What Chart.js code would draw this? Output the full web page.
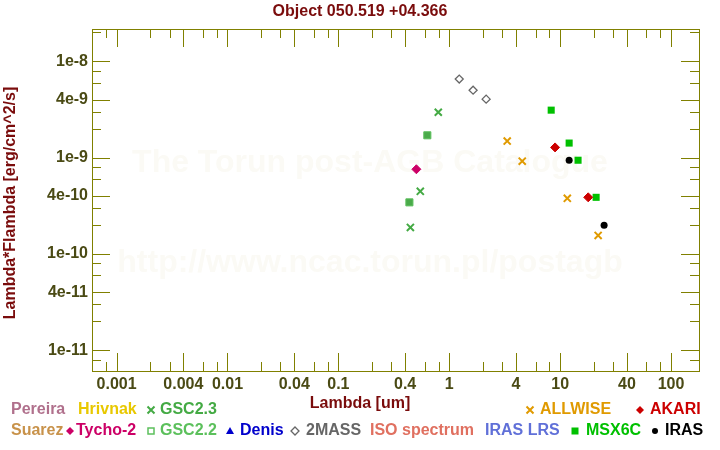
<!DOCTYPE html>
<html>
<head>
<meta charset="utf-8">
<script src="https://cdn.jsdelivr.net/npm/chart.js@4.4.0/dist/chart.umd.min.js"></script>
<style>
  body { margin: 0; background: #fff; }
  #wrap { width: 720px; height: 450px; }
</style>
</head>
<body>
<div id="wrap"><canvas id="sed" width="720" height="450"></canvas></div>
<script>
// photometry : wavelength in um, lambda*F_lambda in erg/cm^2/s
const gsc23Lam = [0.446, 0.548, 0.796];
const gsc23Flux = [1.89e-10, 4.48e-10, 2.97e-9];
const gsc22Lam = [0.437, 0.634];
const gsc22Flux = [3.44e-10, 1.71e-9];
const tychoLam = [0.505];
const tychoFlux = [7.59e-10];
const twomassLam = [1.23, 1.64, 2.15];
const twomassFlux = [6.56e-9, 5.03e-9, 4.06e-9];
const allwiseLam = [3.33, 4.55, 11.6, 22.0];
const allwiseFlux = [1.49e-9, 9.21e-10, 3.79e-10, 1.56e-10];
const akariLam = [9.0, 17.9];
const akariFlux = [1.28e-9, 3.88e-10];
const msxLam = [8.3, 12.05, 14.5, 21.1];
const msxFlux = [3.12e-9, 1.42e-9, 9.42e-10, 3.88e-10];
const irasLam = [12.05, 24.9];
const irasFlux = [9.42e-10, 1.99e-10];

// ticks : 1,2,3,4,6,8 per decade, labels only on 1 and 4
const xTicks = [0.0008, 0.001, 0.002, 0.003, 0.004, 0.006, 0.008, 0.01, 0.02, 0.03, 0.04, 0.06, 0.08,
  0.1, 0.2, 0.3, 0.4, 0.6, 0.8, 1, 2, 3, 4, 6, 8, 10, 20, 30, 40, 60, 80, 100];
const xTickLabels = ['0.001', '0.004', '0.01', '0.04', '0.1', '0.4', '1', '4', '10', '40', '100'];
const yTicks = [8e-12, 1e-11, 2e-11, 3e-11, 4e-11, 6e-11, 8e-11, 1e-10, 2e-10, 3e-10, 4e-10, 6e-10, 8e-10,
  1e-9, 2e-9, 3e-9, 4e-9, 6e-9, 8e-9, 1e-8, 2e-8];
const yTickLabels = ['1e-11', '4e-11', '1e-10', '4e-10', '1e-9', '4e-9', '1e-8'];

const FONT = "'Liberation Sans', Arial, sans-serif";
const AXIS = '#808000';

function pts(lam, flux) {
    return lam.map((l, i) => ({ x: l, y: flux[i] }));
}

function isMajor(v) {
    let m = v / Math.pow(10, Math.floor(Math.log10(v) + 1e-9));
    return Math.abs(m - 1) < 1e-6 || Math.abs(m - 4) < 1e-6;
}

function fmtX(v) {
    let s = xTickLabels.find(t => Math.abs(parseFloat(t) / v - 1) < 1e-6);
    return s || '';
}
function fmtY(v) {
    let s = yTickLabels.find(t => Math.abs(parseFloat(t) / v - 1) < 1e-6);
    return s || '';
}

// watermark behind the points
const watermark = {
    id: 'watermark',
    beforeDatasetsDraw(chart) {
        const ctx = chart.ctx;
        ctx.save();
        ctx.fillStyle = '#fbfaf5';
        ctx.font = 'bold 32px ' + FONT;
        ctx.textAlign = 'center';
        ctx.textBaseline = 'middle';
        ctx.fillText('The Torun post-AGB Catalogue', 370, 163);
        ctx.fillText('http://www.ncac.torun.pl/postagb', 370, 263);
        ctx.restore();
    }
};

// frame with inward ticks on all four sides
const frame = {
    id: 'frame',
    afterDatasetsDraw(chart) {
        const ctx = chart.ctx;
        const a = chart.chartArea;
        const xs = chart.scales.x, ys = chart.scales.y;
        ctx.save();
        ctx.strokeStyle = AXIS;
        ctx.lineWidth = 1;
        ctx.strokeRect(Math.round(a.left) + 0.5, Math.round(a.top) + 0.5,
            Math.round(a.right - a.left), Math.round(a.bottom - a.top));
        ctx.beginPath();
        xTicks.forEach(v => {
            let px = Math.round(xs.getPixelForValue(v)) + 0.5;
            let len = isMajor(v) ? 18 : 9;
            ctx.moveTo(px, a.bottom); ctx.lineTo(px, a.bottom - len);
            ctx.moveTo(px, a.top); ctx.lineTo(px, a.top + len);
        });
        yTicks.forEach(v => {
            let py = Math.round(ys.getPixelForValue(v)) + 0.5;
            let len = isMajor(v) ? 18 : 9;
            ctx.moveTo(a.left, py); ctx.lineTo(a.left + len, py);
            ctx.moveTo(a.right, py); ctx.lineTo(a.right - len, py);
        });
        ctx.stroke();
        ctx.restore();
    }
};

// legend symbols, drawn by hand like the original
function symbol(ctx, kind, x, y, color) {
    ctx.save();
    ctx.fillStyle = color;
    ctx.strokeStyle = color;
    ctx.lineWidth = 2;
    ctx.beginPath();
    if (kind === 'cross') {
        ctx.moveTo(x - 3.5, y - 3.5); ctx.lineTo(x + 3.5, y + 3.5);
        ctx.moveTo(x + 3.5, y - 3.5); ctx.lineTo(x - 3.5, y + 3.5);
        ctx.stroke();
    } else if (kind === 'diamond') {
        ctx.moveTo(x, y - 4); ctx.lineTo(x + 4, y); ctx.lineTo(x, y + 4); ctx.lineTo(x - 4, y);
        ctx.closePath(); ctx.fill();
    } else if (kind === 'odiamond') {
        ctx.lineWidth = 1.3;
        ctx.moveTo(x, y - 4); ctx.lineTo(x + 4, y); ctx.lineTo(x, y + 4); ctx.lineTo(x - 4, y);
        ctx.closePath(); ctx.stroke();
    } else if (kind === 'osquare') {
        ctx.lineWidth = 1.5;
        ctx.strokeRect(x - 3, y - 3, 6, 6);
    } else if (kind === 'square') {
        ctx.fillRect(x - 3.5, y - 3.5, 7, 7);
    } else if (kind === 'triangle') {
        ctx.moveTo(x, y - 4); ctx.lineTo(x + 4, y + 3); ctx.lineTo(x - 4, y + 3);
        ctx.closePath(); ctx.fill();
    } else if (kind === 'circle') {
        ctx.arc(x, y, 3, 0, Math.PI * 2); ctx.fill();
    }
    ctx.restore();
}

const legendItems = [
    { t: 'Pereira', c: '#b0708c', x: 11, row: 0 },
    { t: 'Hrivnak', c: '#e8c800', x: 78, row: 0 },
    { t: 'GSC2.3', c: '#44aa44', x: 160, row: 0, s: 'cross', sx: 151 },
    { t: 'ALLWISE', c: '#e09a00', x: 540, row: 0, s: 'cross', sx: 530 },
    { t: 'AKARI', c: '#cc0000', x: 650, row: 0, s: 'diamond', sx: 640 },
    { t: 'Suarez', c: '#c8924a', x: 11, row: 1 },
    { t: 'Tycho-2', c: '#cc0066', x: 76, row: 1, s: 'diamond', sx: 70 },
    { t: 'GSC2.2', c: '#5cc05c', x: 160, row: 1, s: 'osquare', sx: 151 },
    { t: 'Denis', c: '#0000cc', x: 240, row: 1, s: 'triangle', sx: 230 },
    { t: '2MASS', c: '#666666', x: 306, row: 1, s: 'odiamond', sx: 295 },
    { t: 'ISO spectrum', c: '#e07060', x: 370, row: 1 },
    { t: 'IRAS LRS', c: '#6070d8', x: 485, row: 1 },
    { t: 'MSX6C', c: '#00c000', x: 586, row: 1, s: 'square', sx: 575 },
    { t: 'IRAS', c: '#000000', x: 665, row: 1, s: 'circle', sx: 655 }
];

const texts = {
    id: 'texts',
    afterDraw(chart) {
        const ctx = chart.ctx;
        ctx.save();
        ctx.font = 'bold 16px ' + FONT;
        ctx.textBaseline = 'middle';
        ctx.fillStyle = '#7a0c0c';
        ctx.textAlign = 'center';
        ctx.fillText('Object 050.519 +04.366', 360, 12);
        ctx.fillText('Lambda [um]', 360, 404);
        ctx.save();
        ctx.translate(11, 203);
        ctx.rotate(-Math.PI / 2);
        ctx.fillText('Lambda*Flambda [erg/cm^2/s]', 0, 0);
        ctx.restore();

        ctx.textAlign = 'left';
        legendItems.forEach(it => {
            let y = it.row === 0 ? 410 : 431;
            if (it.s) symbol(ctx, it.s, it.sx, y, it.c);
            ctx.fillStyle = it.c;
            ctx.fillText(it.t, it.x, y);
        });
        ctx.restore();
    }
};

const ctx = document.getElementById('sed').getContext('2d');
new Chart(ctx, {
    type: 'scatter',
    data: {
        datasets: [
            { label: 'GSC2.3', data: pts(gsc23Lam, gsc23Flux), pointStyle: 'crossRot', radius: 5,
              borderColor: '#44aa44', borderWidth: 2 },
            { label: 'GSC2.2', data: pts(gsc22Lam, gsc22Flux), pointStyle: 'rect', radius: 5,
              backgroundColor: '#4aaa4a', borderColor: '#5cbf5c', borderWidth: 1 },
            { label: 'Tycho-2', data: pts(tychoLam, tychoFlux), pointStyle: 'rectRot', radius: 4.5,
              backgroundColor: '#cc0066', borderColor: '#cc0066', borderWidth: 1 },
            { label: '2MASS', data: pts(twomassLam, twomassFlux), pointStyle: 'rectRot', radius: 4,
              backgroundColor: 'rgba(255,255,255,0)', borderColor: '#666666', borderWidth: 1.3 },
            { label: 'ALLWISE', data: pts(allwiseLam, allwiseFlux), pointStyle: 'crossRot', radius: 5,
              borderColor: '#e09a00', borderWidth: 2 },
            { label: 'AKARI', data: pts(akariLam, akariFlux), pointStyle: 'rectRot', radius: 4.5,
              backgroundColor: '#cc0000', borderColor: '#cc0000', borderWidth: 1 },
            { label: 'MSX6C', data: pts(msxLam, msxFlux), pointStyle: 'rect', radius: 5,
              backgroundColor: '#00c000', borderColor: '#00c000', borderWidth: 0 },
            { label: 'IRAS', data: pts(irasLam, irasFlux), pointStyle: 'circle', radius: 3.5,
              backgroundColor: '#000000', borderColor: '#000000', borderWidth: 0 }
        ]
    },
    options: {
        responsive: false,
        animation: false,
        events: [],
        layout: { padding: { top: 29, right: 21, left: 0, bottom: 0 } },
        plugins: { legend: { display: false }, tooltip: { enabled: false }, title: { display: false } },
        scales: {
            x: {
                type: 'logarithmic',
                min: Math.pow(10, -3.216),
                max: Math.pow(10, 2.252),
                grid: { display: false, drawTicks: false },
                border: { display: false },
                afterBuildTicks: s => { s.ticks = xTicks.map(v => ({ value: v })); },
                afterFit: s => { s.height = 79; },
                ticks: {
                    autoSkip: false, maxRotation: 0, padding: 4,
                    color: '#4a4a14', font: { family: FONT, size: 16, weight: 'bold' },
                    callback: v => fmtX(v)
                }
            },
            y: {
                type: 'logarithmic',
                min: Math.pow(10, -11.215),
                max: Math.pow(10, -7.663),
                grid: { display: false, drawTicks: false },
                border: { display: false },
                afterBuildTicks: s => { s.ticks = yTicks.map(v => ({ value: v })); },
                afterFit: s => { s.width = 92; },
                ticks: {
                    autoSkip: false, padding: 4,
                    color: '#4a4a14', font: { family: FONT, size: 16, weight: 'bold' },
                    callback: v => fmtY(v)
                }
            }
        }
    },
    plugins: [watermark, frame, texts]
});
</script>
</body>
</html>
